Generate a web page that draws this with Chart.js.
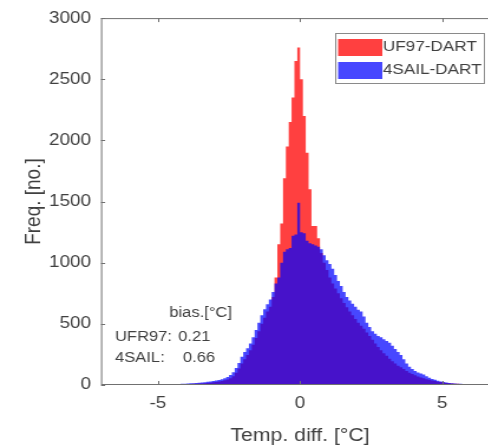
<!DOCTYPE html>
<html>
<head>
<meta charset="utf-8">
<script src="https://cdn.jsdelivr.net/npm/chart.js"></script>
<style>
  html, body { margin: 0; padding: 0; background: #fff; overflow: hidden; }
  /* the figure is drawn narrow and widened, so the lettering comes out broad */
  #wrap { width: 430px; height: 448px; transform: scaleX(1.18); transform-origin: 0 0; }
  canvas { display: block; }
</style>
</head>
<body>
<div id="wrap"><canvas id="histChart" width="430" height="448"></canvas></div>
<script>
// Histogram bins are 0.1 °C wide, the first one starts at -6.5 °C
const binStart = -6.5;
const binWidth = 0.1;

const seriesNames = ['UF97-DART', '4SAIL-DART'];

const countsUF97 = [
  1, 1, 1, 1, 1, 2, 2, 2, 2, 2,
  3, 3, 3, 3, 4, 4, 4, 5, 5, 5,
  6, 6, 7, 7, 8, 8, 9, 10, 11, 12,
  13, 15, 17, 19, 22, 25, 28, 32, 38, 45,
  55, 72, 100, 135, 175, 210, 245, 285, 330, 385,
  440, 500, 550, 600, 640, 720, 880, 1150, 1320, 1690,
  1950, 2150, 2350, 2650, 2760, 2500, 2200, 1900, 1600, 1300,
  1300, 1200, 1080, 1000, 940, 880, 830, 790, 750, 710,
  670, 636, 600, 570, 540, 510, 485, 460, 430, 400,
  370, 340, 310, 285, 260, 240, 215, 195, 175, 158,
  145, 130, 115, 100, 90, 80, 70, 62, 55, 48,
  42, 37, 32, 27, 24, 20, 17, 15, 13, 11,
  10, 9, 8, 7, 6, 5, 4, 4, 3, 3
];

const counts4SAIL = [
  1, 1, 1, 1, 2, 2, 2, 2, 3, 3,
  3, 4, 4, 4, 5, 5, 5, 6, 6, 7,
  7, 8, 9, 10, 11, 12, 14, 15, 16, 18,
  20, 22, 26, 28, 32, 36, 40, 46, 55, 66,
  82, 105, 140, 180, 230, 270, 300, 340, 390, 450,
  510, 570, 620, 660, 700, 760, 830, 880, 1000, 1090,
  1110, 1120, 1220, 1230, 1490, 1250, 1240, 1180, 1160, 1150,
  1140, 1130, 1110, 1060, 1020, 990, 950, 900, 850, 810,
  760, 720, 690, 665, 640, 615, 600, 560, 510, 475,
  440, 420, 400, 390, 375, 360, 345, 320, 295, 270,
  245, 210, 175, 150, 130, 115, 102, 95, 85, 72,
  60, 50, 42, 34, 28, 24, 20, 17, 15, 13,
  11, 10, 9, 8, 7, 6, 5, 5, 4, 4
];

const xTicks = [-5, 0, 5];
const yTicks = [0, 500, 1000, 1500, 2000, 2500, 3000];

const biasTitle = 'bias.[°C]';
const biasLabels = ['UFR97:', '4SAIL:'];
const biasValues = ['0.21', '0.66'];

const redFill = 'rgba(255, 0, 0, 0.75)';
const blueFill = 'rgba(0, 0, 255, 0.72)';
const textColor = '#404040';
const fontFamily = '"Liberation Sans", Arial, sans-serif';

function toBins(counts) {
    return counts.map((c, i) => ({ x: binStart + binWidth * (i + 0.5), y: c }));
}

// Box around the axes with small inward ticks on all four sides
const axesFrame = {
    id: 'axesFrame',
    afterDatasetsDraw(chart) {
        const { ctx, chartArea: a, scales } = chart;
        ctx.save();
        ctx.strokeStyle = '#707070';
        ctx.lineWidth = 1;
        ctx.strokeRect(a.left + 0.5, a.top + 0.5, a.width - 1, a.height - 1);
        ctx.beginPath();
        xTicks.forEach(v => {
            const px = Math.round(scales.x.getPixelForValue(v)) + 0.5;
            ctx.moveTo(px, a.bottom); ctx.lineTo(px, a.bottom - 4);
            ctx.moveTo(px, a.top); ctx.lineTo(px, a.top + 4);
        });
        yTicks.forEach(v => {
            const py = Math.round(scales.y.getPixelForValue(v)) + 0.5;
            ctx.moveTo(a.left, py); ctx.lineTo(a.left + 3.5, py);
            ctx.moveTo(a.right, py); ctx.lineTo(a.right - 3.5, py);
        });
        ctx.stroke();
        ctx.restore();
    }
};

// Legend box in the upper right corner plus the bias note
const notes = {
    id: 'notes',
    afterDraw(chart) {
        const { ctx } = chart;
        ctx.save();

        // legend
        ctx.fillStyle = '#fff';
        ctx.fillRect(284, 33, 126, 50);
        ctx.strokeStyle = '#8a8a8a';
        ctx.lineWidth = 1;
        ctx.strokeRect(284.5, 33.5, 126, 50);
        const fills = [redFill, blueFill];
        ctx.font = '14.5px ' + fontFamily;
        ctx.textBaseline = 'middle';
        ctx.textAlign = 'left';
        seriesNames.forEach((name, i) => {
            const cy = 47 + i * 23;
            ctx.fillStyle = fills[i];
            ctx.fillRect(286.5, cy - 8, 37.5, 17);
            ctx.fillStyle = textColor;
            ctx.fillText(name, 324.5, cy);
        });

        // bias note
        ctx.font = '14px ' + fontFamily;
        ctx.fillStyle = textColor;
        ctx.textAlign = 'center';
        ctx.fillText(biasTitle, 170, 313);
        ctx.textAlign = 'left';
        biasLabels.forEach((lbl, i) => {
            const cy = 337 + i * 21;
            ctx.fillText(lbl, 97.5, cy);
            ctx.fillText(biasValues[i], 151 + i * 4, cy);
        });
        ctx.restore();
    }
};

const binLine = {
    stepped: 'middle',
    fill: 'origin',
    borderWidth: 0,
    pointRadius: 0
};

new Chart(document.getElementById('histChart'), {
    type: 'line',
    data: {
        datasets: [
            {
                ...binLine,
                label: seriesNames[0],
                data: toBins(countsUF97),
                backgroundColor: redFill,
                borderColor: redFill,
                order: 2
            },
            {
                ...binLine,
                label: seriesNames[1],
                data: toBins(counts4SAIL),
                backgroundColor: blueFill,
                borderColor: blueFill,
                order: 1
            }
        ]
    },
    options: {
        responsive: false,
        animation: false,
        layout: { padding: { top: 17, right: 7, left: 0, bottom: 0 } },
        plugins: {
            legend: { display: false },
            tooltip: { enabled: false }
        },
        scales: {
            x: {
                type: 'linear',
                min: -7,
                max: 7,
                offset: false,
                afterBuildTicks: axis => { axis.ticks = xTicks.map(v => ({ value: v })); },
                afterFit: axis => { axis.height = 63; },
                grid: { display: false, drawTicks: false },
                border: { display: false },
                ticks: {
                    padding: 9,
                    color: textColor,
                    font: { family: fontFamily, size: 16 }
                },
                title: {
                    display: true,
                    text: 'Temp. diff. [°C]',
                    color: textColor,
                    font: { family: fontFamily, size: 18 },
                    padding: { top: 0, bottom: 1 }
                }
            },
            y: {
                min: 0,
                max: 3000,
                afterBuildTicks: axis => { axis.ticks = yTicks.map(v => ({ value: v })); },
                afterFit: axis => { axis.width = 85.6; },
                grid: { display: false, drawTicks: false },
                border: { display: false },
                ticks: {
                    padding: 8.5,
                    color: textColor,
                    font: { family: fontFamily, size: 16 },
                    callback: v => String(v)
                },
                title: {
                    display: true,
                    text: 'Freq. [no.]',
                    color: textColor,
                    font: { family: fontFamily, size: 19 },
                    padding: { top: 17, bottom: 0 }
                }
            }
        }
    },
    plugins: [axesFrame, notes]
});
</script>
</body>
</html>
